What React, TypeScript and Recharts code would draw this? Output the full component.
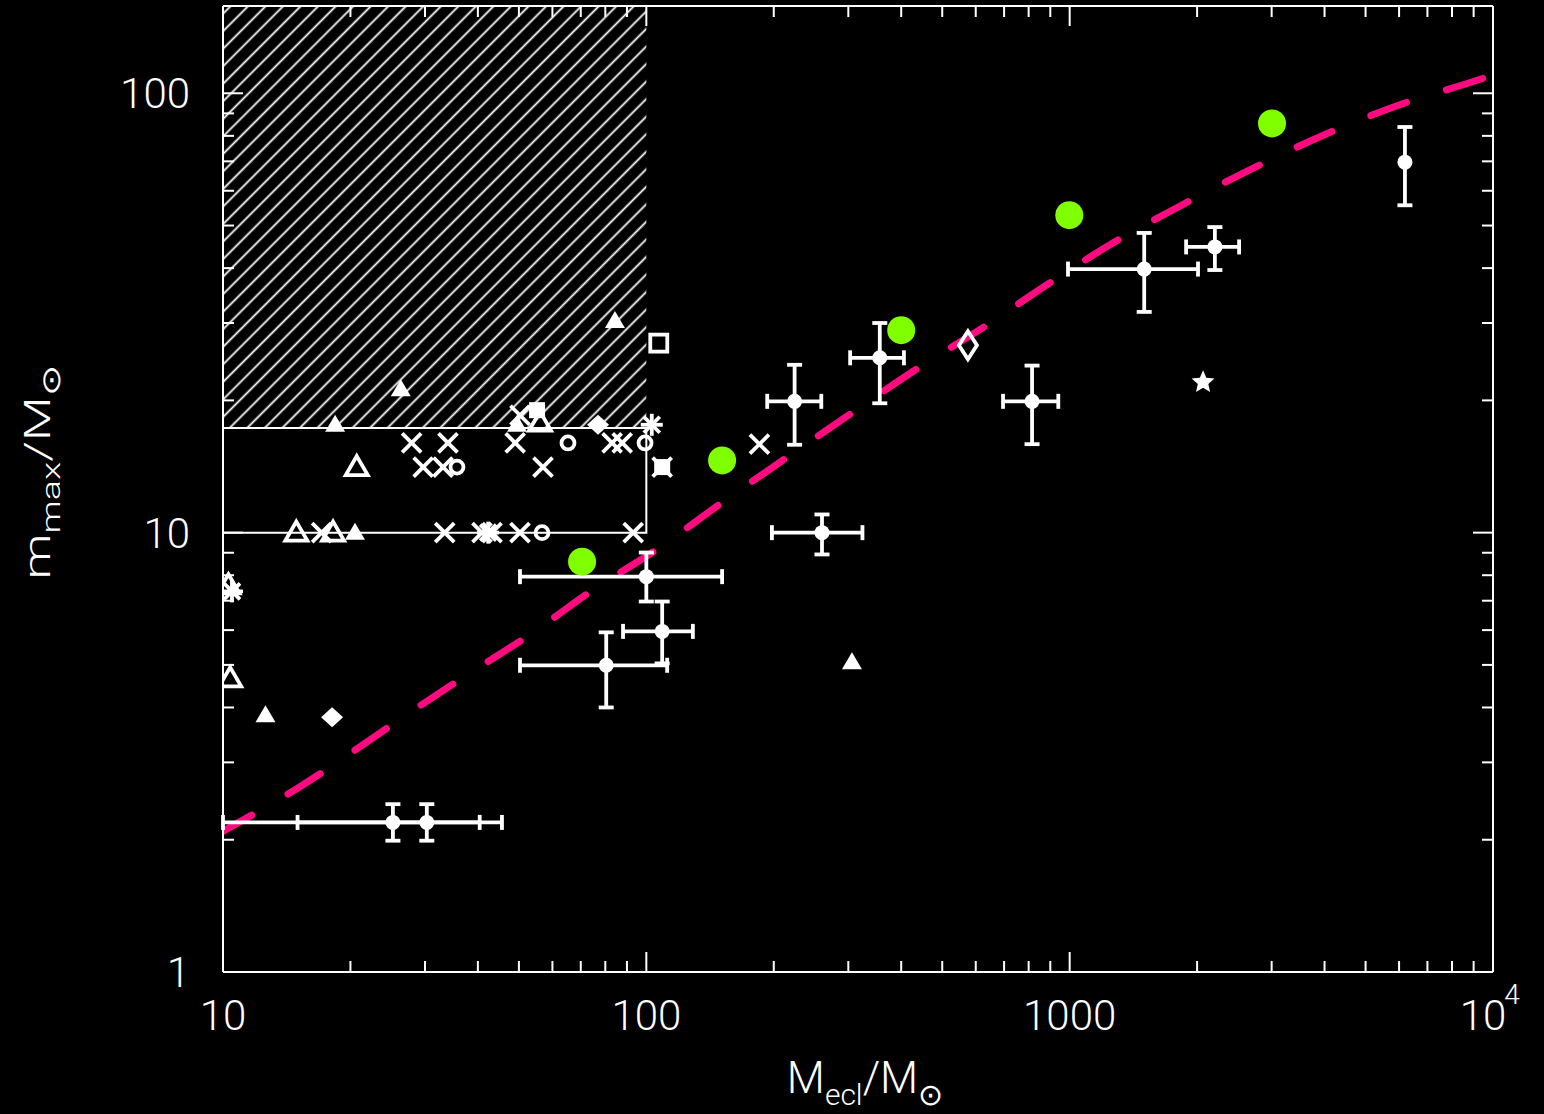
import React from 'react';
import { ComposedChart, Scatter, Line, XAxis, YAxis, ReferenceArea, ErrorBar } from 'recharts';

// ---------- axes ----------
const xDomain = [10, 10000];
const yDomain = [1, 158];
const xTicks = [10, 20, 30, 40, 50, 60, 70, 80, 90, 100, 200, 300, 400, 500, 600, 700, 800, 900, 1000, 2000, 3000, 4000, 5000, 6000, 7000, 8000, 9000, 10000];
const xLabelled = [10, 100, 1000, 10000];
const yTicks = [1, 2, 3, 4, 5, 6, 7, 8, 9, 10, 20, 30, 40, 50, 60, 70, 80, 90, 100];
const yLabelled = [1, 10, 100];

// ---------- regions ----------
const hatchBox = { mLo: 10, mHi: 100, mmaxLo: 17.3, mmaxHi: 158 };
const openBox = { mLo: 10, mHi: 100, mmaxLo: 10, mmaxHi: 17.3 };

// ---------- m_max - M_ecl relation (dashed curve) ----------
const curveMecl = [10, 14.9, 27.7, 37.9, 53.1, 74.8, 105.5, 149, 214, 305, 436, 638, 889, 1288, 1875, 2744, 4074, 6067, 9020, 10000];
const curveMmax = [2.09, 2.61, 3.9, 4.76, 5.86, 7.41, 9.14, 11.6, 14.8, 18.7, 23.6, 29.7, 36.8, 46.1, 56.2, 67.9, 81.1, 94.4, 106.5, 110];

// ---------- clusters with error bars ----------
const errClusters = [
  { m: 25.2, mLo: 15, mHi: 40.4, mmax: 2.19, mmaxLo: 1.99, mmaxHi: 2.41 },
  { m: 30.3, mLo: 10, mHi: 45.6, mmax: 2.19, mmaxLo: 1.99, mmaxHi: 2.41 },
  { m: 80.4, mLo: 50.3, mHi: 112, mmax: 4.99, mmaxLo: 4.0, mmaxHi: 5.93 },
  { m: 109, mLo: 88.1, mHi: 128.8, mmax: 5.96, mmaxLo: 5.04, mmaxHi: 6.97 },
  { m: 100, mLo: 50.3, mHi: 151, mmax: 7.94, mmaxLo: 6.97, mmaxHi: 9.01 },
  { m: 260, mLo: 198, mHi: 324, mmax: 10, mmaxLo: 8.92, mmaxHi: 11.0 },
  { m: 224, mLo: 193, mHi: 259, mmax: 19.9, mmaxLo: 15.85, mmaxHi: 24.1 },
  { m: 356, mLo: 303, mHi: 406, mmax: 25.0, mmaxLo: 19.7, mmaxHi: 30.0 },
  { m: 815, mLo: 696, mHi: 940, mmax: 19.9, mmaxLo: 15.9, mmaxHi: 24.0 },
  { m: 1500, mLo: 991, mHi: 2010, mmax: 39.8, mmaxLo: 31.8, mmaxHi: 48.1 },
  { m: 2203, mLo: 1884, mHi: 2513, mmax: 44.7, mmaxLo: 39.6, mmaxHi: 49.6 },
];
const errClustersYOnly = [{ m: 6194, mmax: 69.7, mmaxLo: 55.6, mmaxHi: 83.8 }];

// ---------- other symbols: [M_ecl, m_max] ----------
const greenDots = [[70.5, 8.59], [151, 14.6], [400, 28.9], [998, 52.8], [3006, 85.4]];
const filledTriangles = [[306, 5.07], [12.6, 3.84], [84.3, 30.3], [26.3, 21.2], [18.4, 17.6], [49.5, 17.6], [20.5, 10.0]];
const openTriangles = [[10.4, 4.66], [10.3, 7.59], [20.7, 14.1], [14.9, 10.0], [18.2, 10.0], [56.1, 17.8]];
const crosses = [[27.9, 16.0], [34.0, 16.0], [49.0, 16.0], [83.0, 16.0], [87.7, 16.0], [29.7, 14.1], [33.1, 14.1], [57.0, 14.1], [17.1, 10.0], [33.4, 10.0], [40.9, 10.0], [43.2, 10.0], [50.3, 10.0], [93.1, 10.0], [185, 15.9], [50.3, 18.5], [109, 14.1]];
const openCircles = [[65.3, 16.0], [99.3, 16.0], [35.7, 14.1], [56.7, 10.0]];
const filledDiamonds = [[18.1, 3.8], [76.9, 17.6]];
const openDiamonds = [[575, 26.7]];
const openSquares = [[107, 27.0]];
const filledSquares = [[55.2, 19.0], [109, 14.1]];
const stars = [[2066, 22.0]];
const asterisks = [[103, 17.6], [42.3, 10.0], [10.5, 7.35]];
// anchor point that ties the (invisible) top/right frame axes to data
const frameAnchor = [[100, 10]];

const WHITE = '#ffffff';
const PINK = '#ff0a80';
const LIME = '#7fff00';
const FONT = 'Roboto, "Liberation Sans", sans-serif';
const MAJOR_LEN = 20;
const MINOR_LEN = 11;
const SW = 3.8;

const pts = (a: number[][]) => a.map(([x, y]) => ({ x, y }));
const curve = curveMecl.map((x, i) => ({ x, y: curveMmax[i] }));
const errData = errClusters.map((p) => ({
  x: p.m,
  y: p.mmax,
  ex: [p.m - p.mLo, p.mHi - p.m],
  ey: [p.mmax - p.mmaxLo, p.mmaxHi - p.mmax],
}));
const errDataY = errClustersYOnly.map((p) => ({ x: p.m, y: p.mmax, ey: [p.mmax - p.mmaxLo, p.mmaxHi - p.mmax] }));

const isDecade = (v: number) => Math.abs(Math.log10(v) - Math.round(Math.log10(v))) < 1e-9;

type P = { cx?: number; cy?: number };
const Dot = ({ cx = 0, cy = 0 }: P) => <circle cx={cx} cy={cy} r={7.5} fill={WHITE} />;
const Green = ({ cx = 0, cy = 0 }: P) => <circle cx={cx} cy={cy} r={14} fill={LIME} />;
const Nothing = () => <g />;
const FilledTriangle = ({ cx = 0, cy = 0 }: P) => (
  <polygon points={`${cx},${cy - 10} ${cx + 10},${cy + 7} ${cx - 10},${cy + 7}`} fill={WHITE} />
);
const OpenTriangle = ({ cx = 0, cy = 0 }: P) => (
  <polygon points={`${cx},${cy - 11} ${cx + 11},${cy + 8} ${cx - 11},${cy + 8}`} fill="none" stroke={WHITE} strokeWidth={SW} />
);
const Cross = ({ cx = 0, cy = 0 }: P) => (
  <g stroke={WHITE} strokeWidth={SW}>
    <line x1={cx - 9.5} y1={cy - 9.5} x2={cx + 9.5} y2={cy + 9.5} />
    <line x1={cx - 9.5} y1={cy + 9.5} x2={cx + 9.5} y2={cy - 9.5} />
  </g>
);
const OpenCircle = ({ cx = 0, cy = 0 }: P) => <circle cx={cx} cy={cy} r={6.5} fill="none" stroke={WHITE} strokeWidth={SW} />;
const FilledDiamond = ({ cx = 0, cy = 0 }: P) => (
  <polygon points={`${cx},${cy - 10} ${cx + 11},${cy} ${cx},${cy + 10} ${cx - 11},${cy}`} fill={WHITE} />
);
const OpenDiamond = ({ cx = 0, cy = 0 }: P) => (
  <polygon points={`${cx},${cy - 14} ${cx + 9},${cy} ${cx},${cy + 14} ${cx - 9},${cy}`} fill="none" stroke={WHITE} strokeWidth={SW} />
);
const OpenSquare = ({ cx = 0, cy = 0 }: P) => (
  <rect x={cx - 8.5} y={cy - 8.5} width={17} height={17} fill="none" stroke={WHITE} strokeWidth={SW} />
);
const FilledSquare = ({ cx = 0, cy = 0 }: P) => <rect x={cx - 8} y={cy - 8} width={16} height={16} fill={WHITE} />;
const Star = ({ cx = 0, cy = 0 }: P) => {
  const p: string[] = [];
  for (let i = 0; i < 10; i++) {
    const r = i % 2 === 0 ? 12 : 5.5;
    const a = -Math.PI / 2 + (i * Math.PI) / 5;
    p.push(`${cx + r * Math.cos(a)},${cy + r * Math.sin(a)}`);
  }
  return <polygon points={p.join(' ')} fill={WHITE} />;
};
const Asterisk = ({ cx = 0, cy = 0 }: P) => (
  <g stroke={WHITE} strokeWidth={SW}>
    <line x1={cx - 11} y1={cy} x2={cx + 11} y2={cy} />
    <line x1={cx} y1={cy - 11} x2={cx} y2={cy + 11} />
    <line x1={cx - 8} y1={cy - 8} x2={cx + 8} y2={cy + 8} />
    <line x1={cx - 8} y1={cy + 8} x2={cx + 8} y2={cy - 8} />
  </g>
);

const labelStyle = { fill: WHITE, fontFamily: FONT, fontWeight: 300, fontSize: 42 } as const;

// bottom axis: inward tick line + label
const XTickBottom = (props: any) => {
  const { x, y, payload } = props;
  const v = payload.value as number;
  const len = isDecade(v) ? MAJOR_LEN : MINOR_LEN;
  let label: React.ReactNode = null;
  if (xLabelled.includes(v)) {
    label =
      v === 10000 ? (
        <g>
          <text x={x - 10} y={y + 58} textAnchor="middle" {...labelStyle}>10</text>
          <text x={x + 19} y={y + 32} textAnchor="middle" {...labelStyle} fontSize={28}>4</text>
        </g>
      ) : (
        <text x={x} y={y + 58} textAnchor="middle" {...labelStyle}>{String(v)}</text>
      );
  }
  return (
    <g>
      <line x1={x} y1={y} x2={x} y2={y - len} stroke={WHITE} strokeWidth={2} />
      {label}
    </g>
  );
};
const XTickTop = (props: any) => {
  const { x, y, payload } = props;
  const len = isDecade(payload.value) ? MAJOR_LEN : MINOR_LEN;
  return <line x1={x} y1={y} x2={x} y2={y + len} stroke={WHITE} strokeWidth={2} />;
};
// left axis: inward tick line + label
const YTickLeft = (props: any) => {
  const { x, y, payload } = props;
  const v = payload.value as number;
  const len = isDecade(v) ? MAJOR_LEN : MINOR_LEN;
  return (
    <g>
      <line x1={x} y1={y} x2={x + len} y2={y} stroke={WHITE} strokeWidth={2} />
      {yLabelled.includes(v) ? (
        <text x={x - 33} y={y + 15} textAnchor="end" {...labelStyle}>{String(v)}</text>
      ) : null}
    </g>
  );
};
const YTickRight = (props: any) => {
  const { x, y, payload } = props;
  const len = isDecade(payload.value) ? MAJOR_LEN : MINOR_LEN;
  return <line x1={x} y1={y} x2={x - len} y2={y} stroke={WHITE} strokeWidth={2} />;
};

const frameLine = { stroke: WHITE, strokeWidth: 2 };
const xCommon = { type: 'number' as const, dataKey: 'x', scale: 'log' as const, domain: xDomain, allowDataOverflow: true, interval: 0 as const, ticks: xTicks, tickLine: false, tickSize: 0, tickMargin: 0, axisLine: frameLine };
const yCommon = { type: 'number' as const, dataKey: 'y', scale: 'log' as const, domain: yDomain, allowDataOverflow: true, interval: 0 as const, ticks: yTicks, tickLine: false, tickSize: 0, tickMargin: 0, axisLine: frameLine };

export default function App() {
  return (
    <div style={{ position: 'absolute', left: 0, top: 0, width: 1544, height: 1114, background: '#000', overflow: 'hidden' }}>
      <svg width={0} height={0} style={{ position: 'absolute' }}>
        <defs>
          <pattern id="hatch" patternUnits="userSpaceOnUse" width={12.4} height={12.4} patternTransform="rotate(-45)">
            <line x1={0} y1={6.2} x2={12.4} y2={6.2} stroke={WHITE} strokeWidth={1.8} />
          </pattern>
        </defs>
      </svg>
      <ComposedChart width={1544} height={1114} margin={{ top: 6, right: 51, bottom: 0, left: 0 }}>
        <XAxis {...xCommon} tick={XTickBottom} height={142} />
        <XAxis {...xCommon} xAxisId="top" orientation="top" mirror tick={XTickTop} />
        <YAxis {...yCommon} tick={YTickLeft} width={223} />
        <YAxis {...yCommon} yAxisId="right" orientation="right" mirror tick={YTickRight} />

        <ReferenceArea x1={hatchBox.mLo} x2={hatchBox.mHi} y1={hatchBox.mmaxLo} y2={hatchBox.mmaxHi} fill="url(#hatch)" fillOpacity={1} stroke="none" />
        <ReferenceArea x1={openBox.mLo} x2={openBox.mHi} y1={openBox.mmaxLo} y2={openBox.mmaxHi} fill="none" fillOpacity={0} stroke={WHITE} strokeWidth={2} />

        <Scatter data={pts(frameAnchor)} xAxisId="top" yAxisId="right" shape={Nothing} isAnimationActive={false} />

        <Line data={curve} dataKey="y" type="monotone" stroke={PINK} strokeWidth={7} strokeDasharray="38 42" strokeDashoffset={5} strokeLinecap="round" dot={false} activeDot={false} isAnimationActive={false} />

        <Scatter data={errData} shape={Dot} isAnimationActive={false}>
          <ErrorBar dataKey="ex" direction="x" width={7.5} stroke={WHITE} strokeWidth={3.8} />
          <ErrorBar dataKey="ey" direction="y" width={7.5} stroke={WHITE} strokeWidth={3.8} />
        </Scatter>
        <Scatter data={errDataY} shape={Dot} isAnimationActive={false}>
          <ErrorBar dataKey="ey" direction="y" width={7.5} stroke={WHITE} strokeWidth={3.8} />
        </Scatter>
        <Scatter data={pts(filledTriangles)} shape={FilledTriangle} isAnimationActive={false} />
        <Scatter data={pts(openTriangles)} shape={OpenTriangle} isAnimationActive={false} />
        <Scatter data={pts(crosses)} shape={Cross} isAnimationActive={false} />
        <Scatter data={pts(openCircles)} shape={OpenCircle} isAnimationActive={false} />
        <Scatter data={pts(filledDiamonds)} shape={FilledDiamond} isAnimationActive={false} />
        <Scatter data={pts(openDiamonds)} shape={OpenDiamond} isAnimationActive={false} />
        <Scatter data={pts(openSquares)} shape={OpenSquare} isAnimationActive={false} />
        <Scatter data={pts(filledSquares)} shape={FilledSquare} isAnimationActive={false} />
        <Scatter data={pts(stars)} shape={Star} isAnimationActive={false} />
        <Scatter data={pts(asterisks)} shape={Asterisk} isAnimationActive={false} />
        <Scatter data={pts(greenDots)} shape={Green} isAnimationActive={false} />
      </ComposedChart>
      <svg width={1544} height={1114} style={{ position: 'absolute', left: 0, top: 0, pointerEvents: 'none' }}>
        <text x={865} y={1093} textAnchor="middle" fill={WHITE} fontFamily={FONT} fontWeight={300} fontSize={44}>
          M<tspan fontSize={30} dy={12}>ecl</tspan>
          <tspan fontSize={44} dy={-12}>/M</tspan>
          <tspan fontSize={30} dy={12}>⊙</tspan>
        </text>
        <text
          x={50}
          y={472}
          transform="rotate(-90 50 472)"
          textAnchor="middle"
          fill={WHITE}
          fontFamily={FONT}
          fontWeight={300}
          fontSize={36}
          textLength={215}
          lengthAdjust="spacingAndGlyphs"
        >
          m<tspan fontSize={26} dy={10}>max</tspan>
          <tspan fontSize={36} dy={-10}>/M</tspan>
          <tspan fontSize={26} dy={10}>⊙</tspan>
        </text>
      </svg>
    </div>
  );
}
